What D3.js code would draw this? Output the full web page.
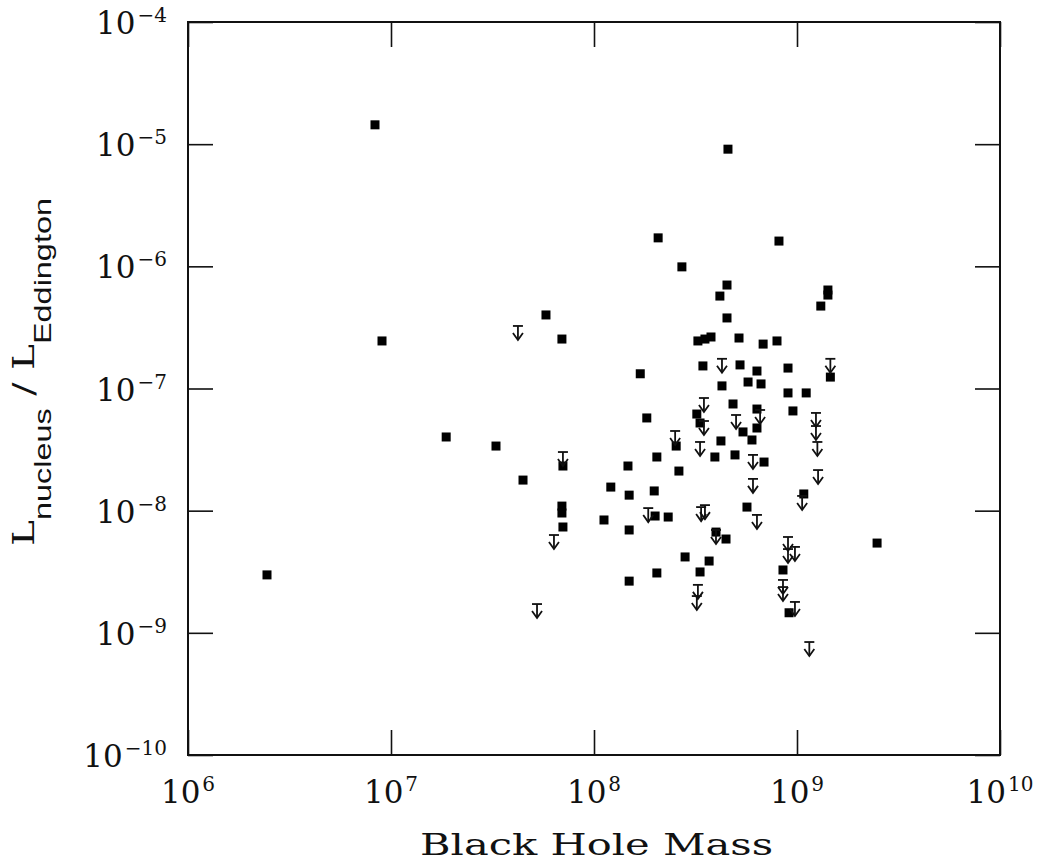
<!DOCTYPE html>
<html>
<head>
<meta charset="utf-8">
<script src="https://cdn.jsdelivr.net/npm/d3@7/dist/d3.min.js"></script>
<style>
  html, body { margin: 0; padding: 0; background: #fff; }
  svg { display: block; }
</style>
</head>
<body>
<svg id="chart" width="1039" height="864"></svg>
<script>
// Nuclear luminosity (in Eddington units) against black hole mass.

// Detections: black hole mass (solar masses) and L_nucleus / L_Eddington
const detMass = [
  2.45e6, 8.34e6, 9.03e6, 1.87e7, 3.29e7, 4.47e7, 5.80e7, 6.95e7, 7.03e7, 6.95e7,
  6.95e7, 7.03e7, 1.12e8, 1.21e8, 1.47e8, 1.49e8, 1.49e8, 1.49e8, 1.69e8, 1.82e8,
  1.98e8, 2.00e8, 2.04e8, 2.32e8, 2.04e8, 2.07e8, 2.54e8, 2.62e8, 2.71e8, 2.81e8,
  3.25e8, 3.52e8, 3.77e8, 3.44e8, 3.21e8, 3.33e8, 3.33e8, 3.69e8, 3.99e8, 4.47e8,
  3.94e8, 4.22e8, 4.27e8, 4.17e8, 4.52e8, 4.52e8, 4.57e8, 4.84e8, 4.95e8, 5.18e8,
  5.24e8, 5.42e8, 5.67e8, 5.74e8, 6.00e8, 6.35e8, 6.35e8, 6.35e8, 6.65e8, 6.81e8,
  6.88e8, 7.97e8, 8.15e8, 8.53e8, 9.03e8, 9.03e8, 9.14e8, 9.55e8, 1.08e9, 1.11e9,
  1.31e9, 1.42e9, 1.42e9, 1.46e9, 2.48e9
];
const detRatio = [
  2.98e-9, 1.44e-5, 2.45e-7, 4.01e-8, 3.38e-8, 1.78e-8, 4.0e-7, 2.54e-7, 2.32e-8, 1.09e-8,
  9.57e-9, 7.35e-9, 8.39e-9, 1.56e-8, 2.32e-8, 1.34e-8, 6.95e-9, 2.65e-9, 1.32e-7, 5.74e-8,
  1.45e-8, 9.04e-9, 2.75e-8, 8.87e-9, 3.09e-9, 1.71e-6, 3.38e-8, 2.11e-8, 9.9e-7, 4.18e-9,
  2.45e-7, 2.54e-7, 2.64e-7, 1.53e-7, 6.18e-8, 5.22e-8, 3.15e-9, 3.87e-9, 6.68e-9, 5.86e-9,
  2.75e-8, 3.72e-8, 1.05e-7, 5.71e-7, 7.03e-7, 3.78e-7, 9.1e-6, 7.47e-8, 2.86e-8, 2.59e-7,
  1.56e-7, 4.41e-8, 1.07e-8, 1.13e-7, 3.79e-8, 6.79e-8, 4.75e-8, 1.39e-7, 1.09e-7, 2.31e-7,
  2.50e-8, 2.45e-7, 1.61e-6, 3.27e-9, 1.47e-7, 9.2e-8, 1.46e-9, 6.55e-8, 1.37e-8, 9.2e-8,
  4.73e-7, 6.40e-7, 5.82e-7, 1.24e-7, 5.43e-9
];

// Upper limits: black hole mass and L_nucleus / L_Eddington limit
const limMass = [
  4.22e7, 7.03e7, 6.35e7, 5.24e7, 2.51e8, 1.85e8, 4.27e8, 3.48e8, 3.48e8, 3.33e8,
  3.37e8, 3.52e8, 3.25e8, 3.21e8, 3.99e8, 5.01e8, 6.58e8, 6.07e8, 6.07e8, 6.35e8,
  1.46e9, 1.24e9, 1.24e9, 1.26e9, 1.27e9, 1.06e9, 9.03e8, 9.03e8, 9.77e8, 8.53e8,
  8.53e8, 9.77e8, 1.15e9
];
const limRatio = [
  3.25e-7, 3.02e-8, 6.32e-9, 1.72e-9, 4.49e-8, 1.05e-8, 1.75e-7, 8.36e-8, 5.42e-8, 3.65e-8,
  1.07e-8, 1.11e-8, 2.47e-9, 2.0e-9, 6.95e-9, 6.07e-8, 6.67e-8, 2.86e-8, 1.82e-8, 9.23e-9,
  1.75e-7, 6.31e-8, 4.93e-8, 3.65e-8, 2.15e-8, 1.32e-8, 6.09e-9, 4.85e-9, 5.05e-9, 2.71e-9,
  2.37e-9, 1.79e-9, 8.41e-10
];

// Axis ticks (decades) and their exponents
const massTicks = [1e6, 1e7, 1e8, 1e9, 1e10];
const massExp = ["6", "7", "8", "9", "10"];
const ratioTicks = [1e-4, 1e-5, 1e-6, 1e-7, 1e-8, 1e-9, 1e-10];
const ratioExp = ["\u22124", "\u22125", "\u22126", "\u22127", "\u22128", "\u22129", "\u221210"];

const svg = d3.select("#chart");
const plotL = 188, plotR = 1000, plotT = 22, plotB = 755;
const serif = "'DejaVu Serif', 'Liberation Serif', serif";
const narrow = "'Liberation Sans Narrow', 'Liberation Sans', sans-serif";
const ink = "#111";

const x = d3.scaleLog().domain([1e6, 1e10]).range([plotL, plotR]);
const y = d3.scaleLog().domain([1e-10, 1e-4]).range([plotB, plotT]);

const tickLen = 25;

// Inward-pointing ticks on all four sides
const axes = [
  d3.axisBottom(x).tickValues(massTicks).tickSizeInner(-tickLen).tickSizeOuter(0).tickFormat(""),
  d3.axisTop(x).tickValues(massTicks).tickSizeInner(-tickLen).tickSizeOuter(0).tickFormat(""),
  d3.axisLeft(y).tickValues(ratioTicks).tickSizeInner(-tickLen).tickSizeOuter(0).tickFormat(""),
  d3.axisRight(y).tickValues(ratioTicks).tickSizeInner(-tickLen).tickSizeOuter(0).tickFormat("")
];
const offsets = [[0, plotB], [0, plotT], [plotL, 0], [plotR, 0]];
axes.forEach((ax, i) => {
  const g = svg.append("g").attr("transform", `translate(${offsets[i][0]},${offsets[i][1]})`).call(ax);
  g.selectAll("path.domain").remove();
  g.selectAll("line").attr("stroke", ink).attr("stroke-width", 1.6);
});

// Frame
svg.append("rect")
  .attr("x", plotL).attr("y", plotT)
  .attr("width", plotR - plotL).attr("height", plotB - plotT)
  .attr("fill", "none").attr("stroke", ink).attr("stroke-width", 2);

// Power-of-ten label: base "10" plus raised exponent, placed by its total width
function powerLabel(g, exp, px, py, anchor) {
  const base = g.append("text").attr("font-family", serif).attr("font-size", 31)
    .attr("fill", ink).attr("y", py).text("10");
  const sup = g.append("text").attr("font-family", serif).attr("font-size", 20)
    .attr("fill", ink).attr("y", py - 12).text(exp);
  const wb = base.node().getComputedTextLength();
  const ws = sup.node().getComputedTextLength();
  const gap = 2;
  const total = wb + gap + ws;
  const x0 = anchor === "middle" ? px - total / 2 : px - total;
  base.attr("x", x0);
  sup.attr("x", x0 + wb + gap);
}

const xLabels = svg.append("g");
massTicks.forEach((t, i) => powerLabel(xLabels, massExp[i], x(t), 803, "middle"));

const yLabels = svg.append("g");
ratioTicks.forEach((t, i) => powerLabel(yLabels, ratioExp[i], 167, y(t) + 12, "end"));

// X axis title
svg.append("text")
  .attr("x", 420).attr("y", 855)
  .attr("font-family", serif)
  .attr("font-size", 30)
  .attr("textLength", 353)
  .attr("lengthAdjust", "spacingAndGlyphs")
  .attr("fill", ink)
  .text("Black Hole Mass");

// Y axis title: L_nucleus / L_Eddington
const yt = svg.append("text")
  .attr("transform", "translate(34,546) rotate(-90)")
  .attr("font-family", serif)
  .attr("font-size", 29)
  .attr("textLength", 348)
  .attr("lengthAdjust", "spacingAndGlyphs")
  .attr("fill", ink);
yt.append("tspan").text("L");
yt.append("tspan").attr("font-family", narrow).attr("font-size", 24).attr("dy", 17).text("nucleus");
yt.append("tspan").attr("dy", -17).text(" / L");
yt.append("tspan").attr("font-family", narrow).attr("font-size", 24).attr("dy", 17).text("Eddington");

// Detections: filled squares
const s = 9;
svg.append("g").selectAll("rect").data(detMass.map((m, i) => [m, detRatio[i]])).join("rect")
  .attr("x", d => x(d[0]) - s / 2)
  .attr("y", d => y(d[1]) - s / 2)
  .attr("width", s).attr("height", s)
  .attr("fill", "#000");

// Upper limits: bar with downward arrow
const lim = svg.append("g").attr("stroke", ink).attr("stroke-width", 1.8).attr("fill", "none")
  .selectAll("g").data(limMass.map((m, i) => [m, limRatio[i]])).join("g")
  .attr("transform", d => `translate(${x(d[0])},${y(d[1])})`);
lim.append("line").attr("x1", -5).attr("x2", 5).attr("y1", 0).attr("y2", 0);
lim.append("line").attr("x1", 0).attr("x2", 0).attr("y1", 0).attr("y2", 14);
lim.append("polyline").attr("points", "-5,7 0,14 5,7");
</script>
</body>
</html>
